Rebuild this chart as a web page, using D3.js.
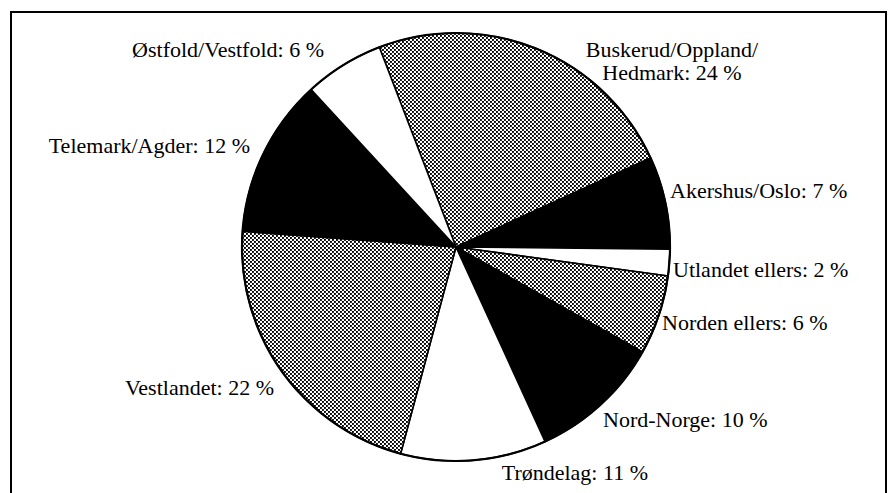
<!DOCTYPE html>
<html lang="no"><head>
<meta charset="utf-8">
<title>Pie</title>
<script src="https://cdnjs.cloudflare.com/ajax/libs/d3/7.8.5/d3.min.js"></script>
<style>
  body { margin: 0; background: #fff; }
  text { font-family: "Liberation Serif", "Times New Roman", serif; font-size: 22px; fill: #000; }
</style>
</head>
<body>
<svg id="chart" width="889" height="493"></svg>
<script>
// regions, clockwise from the top-left boundary
var regions = ["Buskerud/Oppland/Hedmark", "Akershus/Oslo", "Utlandet ellers", "Norden ellers",
               "Nord-Norge", "Trøndelag", "Vestlandet", "Telemark/Agder", "Østfold/Vestfold"];
var shares = [24, 7, 2, 6, 10, 11, 22, 12, 6];
var fills = ["dots", "black", "white", "dots", "black", "white", "dots", "black", "white"];

// label lines (text), layout kept apart
var labelLines = [
  ["Buskerud/Oppland/", "Hedmark: 24 %"],
  ["Akershus/Oslo: 7 %"],
  ["Utlandet ellers: 2 %"],
  ["Norden ellers: 6 %"],
  ["Nord-Norge: 10 %"],
  ["Trøndelag: 11 %"],
  ["Vestlandet: 22 %"],
  ["Telemark/Agder: 12 %"],
  ["Østfold/Vestfold: 6 %"]
];
// [x, baseline y, anchor]
var labelLayout = [
  [672, 57, "middle"], [670, 198, "start"], [673, 277, "start"], [662, 330, "start"],
  [603, 427, "start"], [648, 480, "end"], [274, 395, "end"], [250, 153, "end"], [324, 57, "end"]
];

var width = 889, height = 493;
var cx = 456, cy = 247, r = 214;
var start = -21 * Math.PI / 180;

var svg = d3.select("#chart");

// stipple fill
var defs = svg.append("defs");
var pat = defs.append("pattern").attr("id", "dots")
  .attr("patternUnits", "userSpaceOnUse").attr("width", 4).attr("height", 4);
pat.append("rect").attr("width", 4).attr("height", 4).attr("fill", "#fff");
pat.append("rect").attr("x", 0).attr("y", 0).attr("width", 1.9).attr("height", 1.9).attr("fill", "#000");
pat.append("rect").attr("x", 2).attr("y", 2).attr("width", 1.9).attr("height", 1.9).attr("fill", "#000");

// frame
svg.append("rect").attr("x", 11).attr("y", 12).attr("width", 875).attr("height", 500)
  .attr("fill", "none").attr("stroke", "#000").attr("stroke-width", 2);

var pie = d3.pie().sort(null).value(function(d) { return d; })
  .startAngle(start).endAngle(start + 2 * Math.PI);
var arc = d3.arc().innerRadius(0).outerRadius(r);

var g = svg.append("g").attr("transform", "translate(" + cx + "," + cy + ")");
g.selectAll("path.slice")
  .data(pie(shares))
  .enter()
  .append("path")
  .attr("class", "slice")
  .attr("d", arc)
  .attr("fill", function(d, i) { return fills[i] == "dots" ? "url(#dots)" : fills[i]; })
  .attr("stroke", "#000")
  .attr("stroke-width", 1.6)
  .attr("stroke-linejoin", "round");

g.append("circle").attr("r", r).attr("fill", "none").attr("stroke", "#000").attr("stroke-width", 2.2);

// labels
svg.selectAll("text.lab")
  .data(labelLines)
  .enter()
  .append("text")
  .attr("class", "lab")
  .attr("x", function(d, i) { return labelLayout[i][0]; })
  .attr("y", function(d, i) { return labelLayout[i][1]; })
  .attr("text-anchor", function(d, i) { return labelLayout[i][2]; })
  .each(function(d, i) {
    var t = d3.select(this);
    d.forEach(function(line, k) {
      t.append("tspan").attr("x", labelLayout[i][0]).attr("dy", k == 0 ? 0 : 23).text(line);
    });
  });
</script>
</body></html>
